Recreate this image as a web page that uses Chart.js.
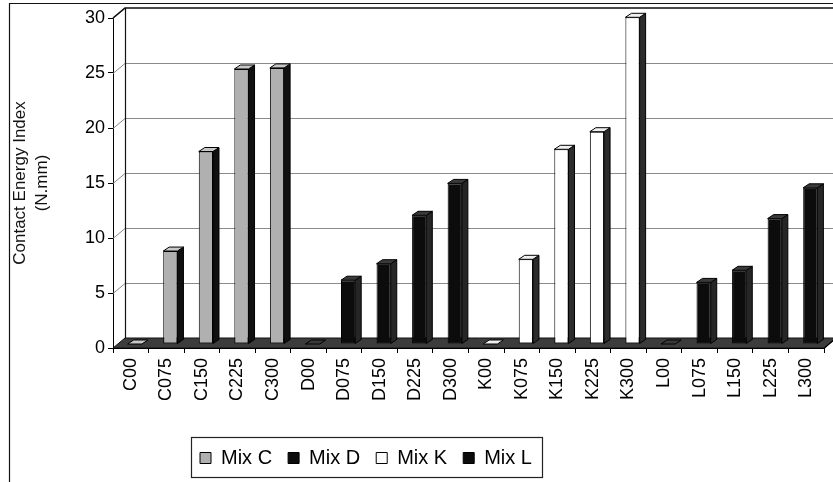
<!DOCTYPE html>
<html>
<head>
<meta charset="utf-8">
<script src="https://cdn.jsdelivr.net/npm/chart.js@4/dist/chart.umd.min.js"></script>
<style>
  html, body { margin: 0; padding: 0; background: #fff; }
  #wrap { width: 833px; height: 482px; }
</style>
</head>
<body>
<div id="wrap"><canvas id="c" width="833" height="482"></canvas></div>
<script>
// Categories along the x axis (one bar each)
const categories = ['C00', 'C075', 'C150', 'C225', 'C300',
                    'D00', 'D075', 'D150', 'D225', 'D300',
                    'K00', 'K075', 'K150', 'K225', 'K300',
                    'L00', 'L075', 'L150', 'L225', 'L300'];

// Contact energy index (N.mm) per mix
const mixC = [0, 8.45, 17.5, 25.0, 25.1];
const mixD = [0, 5.8, 7.3, 11.7, 14.6];
const mixK = [0, 7.7, 17.7, 19.3, 29.7];
const mixL = [0, 5.6, 6.7, 11.4, 14.2];

const seriesNames = ['Mix C', 'Mix D', 'Mix K', 'Mix L'];
const yTicks = [0, 5, 10, 15, 20, 25, 30];

// Each mix occupies its own block of five categories
function placeInBlock(values, block) {
  const out = categories.map(() => null);
  values.forEach((v, i) => { out[block * 5 + i] = v; });
  return out;
}

const FONT = "'Liberation Sans', Arial, Helvetica, sans-serif";

// Face colours for the extruded bars
const faces = [
  { front: '#b0b0b0', side: '#101010', top: '#c8c8c8', edge: '#000' },
  { front: '#0c0c0c', side: '#262626', top: '#3a3a3a', edge: '#000' },
  { front: '#ffffff', side: '#2c2c2c', top: '#efefef', edge: '#000' },
  { front: '#0c0c0c', side: '#262626', top: '#3a3a3a', edge: '#000' }
];

// Perspective offsets
const WALL = { dx: 12, dy: -10 };      // back wall relative to the front axis plane
const BAR_SHIFT = { dx: 4, dy: -4 };   // bar front faces sit slightly behind the front edge
const BAR_DEPTH = { dx: 6, dy: -4 };   // extrusion of each bar

function poly(ctx, pts, fill, stroke) {
  ctx.beginPath();
  ctx.moveTo(pts[0][0], pts[0][1]);
  for (let i = 1; i < pts.length; i++) ctx.lineTo(pts[i][0], pts[i][1]);
  ctx.closePath();
  if (fill) { ctx.fillStyle = fill; ctx.fill(); }
  if (stroke) { ctx.strokeStyle = stroke; ctx.lineWidth = 1; ctx.stroke(); }
}

const scene3d = {
  id: 'scene3d',
  beforeDraw(chart) {
    const ctx = chart.ctx;
    ctx.save();
    ctx.fillStyle = '#fff';
    ctx.fillRect(0, 0, chart.width, chart.height);
    // outer frame
    ctx.strokeStyle = '#111';
    ctx.lineWidth = 1.2;
    ctx.beginPath();
    ctx.moveTo(9.5, chart.height);
    ctx.lineTo(9.5, 3.5);
    ctx.lineTo(chart.width, 3.5);
    ctx.stroke();
    ctx.restore();
  },
  beforeDatasetsDraw(chart) {
    const ctx = chart.ctx;
    const { left, right, top, bottom } = chart.chartArea;
    const y = chart.scales.y;
    ctx.save();
    // gridlines on the back wall and the left side wall
    ctx.strokeStyle = '#8a8a8a';
    ctx.lineWidth = 1;
    yTicks.forEach(t => {
      if (t === 0) return;
      const py = y.getPixelForValue(t);
      ctx.beginPath();
      ctx.moveTo(left, py + 0.5);
      ctx.lineTo(left + WALL.dx, py + WALL.dy + 0.5);
      if (t !== yTicks[yTicks.length - 1]) ctx.lineTo(chart.width, py + WALL.dy + 0.5);
      ctx.stroke();
    });
    // top edge of back wall
    ctx.strokeStyle = '#111';
    ctx.lineWidth = 1.6;
    ctx.beginPath();
    ctx.moveTo(left, top);
    ctx.lineTo(left + WALL.dx, top + WALL.dy);
    ctx.lineTo(chart.width, top + WALL.dy);
    ctx.stroke();
    // back edge of the side wall
    ctx.lineWidth = 1.2;
    ctx.beginPath();
    ctx.moveTo(left + WALL.dx + 0.5, top + WALL.dy);
    ctx.lineTo(left + WALL.dx + 0.5, bottom + WALL.dy);
    ctx.stroke();
    // floor
    poly(ctx, [[left, bottom], [right, bottom], [right + WALL.dx, bottom + WALL.dy], [left + WALL.dx, bottom + WALL.dy]], '#3c3c3c', '#111');
    ctx.strokeStyle = '#000';
    ctx.lineWidth = 1.2;
    ctx.beginPath();
    ctx.moveTo(left, bottom + 0.5);
    ctx.lineTo(right, bottom + 0.5);
    ctx.lineTo(right + WALL.dx, bottom + WALL.dy);
    ctx.stroke();
    // bars are drawn a little behind the front plane
    ctx.translate(BAR_SHIFT.dx, BAR_SHIFT.dy);
  },
  afterDatasetsDraw(chart) {
    const ctx = chart.ctx;
    chart.data.datasets.forEach((ds, di) => {
      const meta = chart.getDatasetMeta(di);
      const f = faces[di];
      meta.data.forEach((bar, i) => {
        if (ds.data[i] === null || ds.data[i] === undefined) return;
        const p = bar.getProps(['x', 'y', 'base', 'width'], true);
        const l = p.x - p.width / 2, r = p.x + p.width / 2;
        const t = Math.min(p.y, p.base), b = Math.max(p.y, p.base);
        const dx = BAR_DEPTH.dx, dy = BAR_DEPTH.dy;
        // right side face
        if (b - t > 0.5) {
          poly(ctx, [[r, t], [r + dx, t + dy], [r + dx, b + dy], [r, b]], f.side, f.edge);
        }
        // top face
        poly(ctx, [[l, t], [l + dx, t + dy], [r + dx, t + dy], [r, t]], f.top, f.edge);
      });
    });
    ctx.restore();
  },
  afterLayout(chart) {
    // place the legend under the left part of the plot
    const lg = chart.legend;
    const cx = 366, w = 400;
    const h = lg.bottom - lg.top;
    lg.left = cx - w / 2;
    lg.right = cx + w / 2;
    lg.top = 432;
    lg.bottom = lg.top + h;
  },
  afterDraw(chart) {
    // border around the legend
    const lg = chart.legend;
    const pad = lg.options.labels.padding;
    const lw = lg.lineWidths[0];
    const start = (lg.left + pad + lg.right - lw) / 2;
    const end = start + lw - pad;
    const ctx = chart.ctx;
    ctx.save();
    ctx.strokeStyle = '#222';
    ctx.lineWidth = 1.2;
    ctx.strokeRect(Math.round(start - 9) + 0.5, 437.5, Math.round(end - start + 19), 40);
    ctx.restore();
  }
};

const datasets = [mixC, mixD, mixK, mixL].map((vals, k) => ({
  label: seriesNames[k],
  data: placeInBlock(vals, k),
  backgroundColor: faces[k].front,
  borderColor: '#000',
  borderWidth: 1,
  borderSkipped: false,
  barPercentage: 0.4,
  categoryPercentage: 1.0,
  clip: false
}));

new Chart(document.getElementById('c'), {
  type: 'bar',
  data: { labels: categories, datasets },
  options: {
    responsive: false,
    animation: false,
    devicePixelRatio: 1,
    layout: { padding: { left: 0, top: 18, right: 5, bottom: 3 } },
    plugins: {
      legend: {
        position: 'bottom',
        labels: {
          font: { family: FONT, size: 20 },
          color: '#000',
          boxWidth: 11,
          boxHeight: 11,
          padding: 16
        }
      },
      tooltip: { enabled: false }
    },
    scales: {
      x: {
        stacked: true,
        offset: true,
        grid: { display: true, drawOnChartArea: false, drawTicks: true, tickLength: 5, color: '#000', offset: true },
        border: { display: true, color: '#000' },
        ticks: { autoSkip: false, minRotation: 90, maxRotation: 90, padding: 5, color: '#000', font: { family: FONT, size: 18 } },
        afterFit(scale) { scale.height = 85; }
      },
      y: {
        stacked: true,
        min: 0,
        max: 30,
        ticks: { stepSize: 5, padding: 3, color: '#000', font: { family: FONT, size: 18 } },
        grid: { drawOnChartArea: false, drawTicks: true, tickLength: 5, color: '#000' },
        border: { display: true, color: '#000' },
        title: {
          display: true,
          text: ['Contact Energy Index', '(N.mm)'],
          color: '#111',
          font: { family: FONT, size: 17, lineHeight: 1.3 },
          padding: { top: 9, bottom: 0 }
        },
        afterFit(scale) { scale.width = 113; }
      }
    }
  },
  plugins: [scene3d]
});
</script>
</body>
</html>
